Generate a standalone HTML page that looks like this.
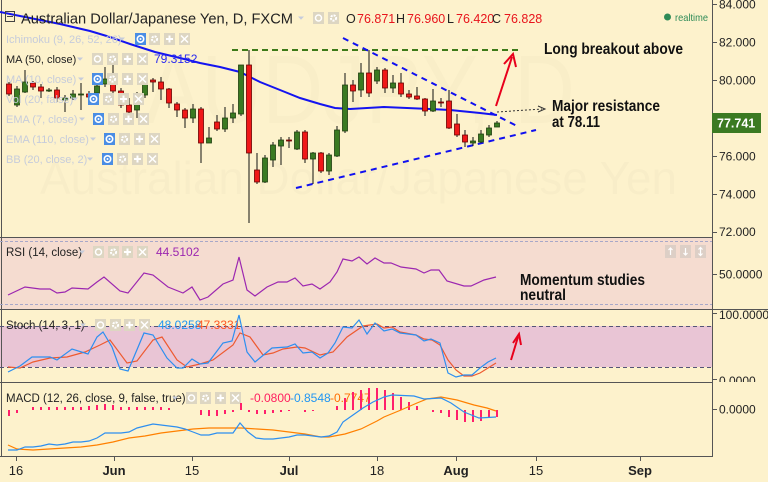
<!DOCTYPE html>
<html><head><meta charset="utf-8"><style>
html,body{margin:0;padding:0;background:#fdf2cc;}
svg{display:block;}
text{font-family:"Liberation Sans",sans-serif;}
.lab{font-size:11px;fill:#c6ccdb;}
.ax{font-size:12px;fill:#222;}
.tm{font-size:13px;fill:#222;text-anchor:middle;}
.tb{font-weight:bold;}
.ann{font-size:16px;font-weight:bold;fill:#111;}
.w line{stroke:#111;stroke-width:1;}
.cg{fill:#3a7a22;stroke:#1f3f10;stroke-width:0.8;}
.cr{fill:#f01818;stroke:#6a0000;stroke-width:0.8;}
.h rect{fill:#ff1f6b;}
</style></head><body>
<svg width="768" height="482" viewBox="0 0 768 482" xmlns="http://www.w3.org/2000/svg">
<defs>
<g id="ge"><rect x="0" y="-6" width="11" height="12" fill="#ddd6c2"/><circle cx="5.5" cy="0" r="3" fill="none" stroke="#fff" stroke-width="1.5"/></g>
<g id="gg"><rect x="0" y="-6" width="11" height="12" fill="#ddd6c2"/><circle cx="5.5" cy="0" r="2.6" fill="none" stroke="#fff" stroke-width="2" stroke-dasharray="2,1"/></g>
<g id="gp"><rect x="0" y="-6" width="11" height="12" fill="#ddd6c2"/><path d="M2,0H9M5.5,-3.5V3.5" stroke="#fff" stroke-width="2"/></g>
<g id="gx"><rect x="0" y="-6" width="11" height="12" fill="#ddd6c2"/><path d="M2,-3.5L9,3.5M9,-3.5L2,3.5" stroke="#fff" stroke-width="1.5"/></g>
<g id="be"><rect x="0" y="-6" width="11" height="12" fill="#4a8de4"/><circle cx="5.5" cy="0" r="3.2" fill="none" stroke="#fff" stroke-width="1.6"/><circle cx="5.5" cy="0" r="1" fill="#fff"/></g>
<path id="dd" d="M0,-1.5L6,-1.5L3,1.8Z" fill="#c6ccdb"/>
<clipPath id="cm"><rect x="0" y="0" width="768" height="236"/></clipPath>
<clipPath id="cs"><rect x="0" y="310" width="768" height="72"/></clipPath>
</defs>

<rect x="0" y="0" width="768" height="482" fill="#fdf2cc"/>
<rect x="0" y="237" width="712" height="72" fill="#f5dcd0"/>
<rect x="0" y="326" width="712" height="41" fill="#e9c5d5"/>

<text x="145" y="123" font-size="97" fill="#000" fill-opacity="0.015" textLength="430" lengthAdjust="spacingAndGlyphs">AUDJPY, D</text>
<text x="40" y="194" font-size="46" fill="#000" fill-opacity="0.02" textLength="637" lengthAdjust="spacingAndGlyphs">Australian Dollar/Japanese Yen</text>

<g stroke="#555" stroke-width="1">
<line x1="712.5" y1="0" x2="712.5" y2="457"/>
<line x1="1.5" y1="0" x2="1.5" y2="456"/>
<line x1="0" y1="237.5" x2="712" y2="237.5"/>
<line x1="0" y1="309.5" x2="768" y2="309.5"/>
<line x1="0" y1="382.5" x2="712" y2="382.5"/>
<line x1="0" y1="456.5" x2="712" y2="456.5"/>
</g>
<g stroke="#a8a8c8" stroke-width="1" stroke-dasharray="3,2">
<line x1="0" y1="241.5" x2="712" y2="241.5"/>
<line x1="0" y1="304.5" x2="712" y2="304.5"/>
</g>
<g stroke="#555577" stroke-width="1" stroke-dasharray="4,3">
<line x1="0" y1="326.5" x2="712" y2="326.5"/>
<line x1="0" y1="367.5" x2="712" y2="367.5"/>
</g>

<g stroke="#555" stroke-width="1">
<path d="M712,4.5h5M712,42.5h5M712,80.5h5M712,118.5h5M712,156.5h5M712,194.5h5M712,232.5h5M712,274.5h5M712,313.5h5M712,379.5h5M712,409.5h5"/>
<path d="M16.5,456v5M114.5,456v5M192.5,456v5M289.5,456v5M377.5,456v5M456.5,456v5M536.5,456v5M640.5,456v5"/>
</g>

<g class="ax">
<text x="719" y="8.5">84.000</text>
<text x="719" y="46.5">82.000</text>
<text x="719" y="84.5">80.000</text>
<text x="719" y="160.5">76.000</text>
<text x="719" y="198.5">74.000</text>
<text x="719" y="236" clip-path="url(#cm)">72.000</text>
<text x="719" y="278.5">50.0000</text>
<text x="719" y="319">100.0000</text>
<text x="719" y="385" clip-path="url(#cs)">0.0000</text>
<text x="719" y="413.5">0.0000</text>
</g>
<rect x="712" y="113" width="49" height="20" fill="#3b7a22"/>
<text x="717" y="127.5" font-size="12.5" fill="#fff" font-weight="bold">77.741</text>

<text class="tm" x="16" y="475">16</text>
<text class="tm tb" x="114" y="475">Jun</text>
<text class="tm" x="192" y="475">15</text>
<text class="tm tb" x="289" y="475">Jul</text>
<text class="tm" x="377" y="475">18</text>
<text class="tm tb" x="456" y="475">Aug</text>
<text class="tm" x="536" y="475">15</text>
<text class="tm tb" x="640" y="475">Sep</text>

<polyline fill="none" stroke="#1414f0" stroke-width="2" points="0,12 30,18 60,24 90,31 110,37 130,44 155,52 180,58 200,63 220,67 240,72 250,77 260,82 270,86 285,92 300,98 320,104 335,108 350,109 384,107 430,109 450,110 480,113 497,115"/>

<line x1="232" y1="50" x2="521" y2="50" stroke="#3d7a18" stroke-width="2" stroke-dasharray="6,4"/>
<line x1="343" y1="38" x2="519" y2="127" stroke="#1010f0" stroke-width="2" stroke-dasharray="6,5"/>
<line x1="296" y1="188" x2="536" y2="130" stroke="#1010f0" stroke-width="2" stroke-dasharray="6,5"/>

<g class="w">
<line x1="9" y1="82" x2="9" y2="96"/><line x1="17" y1="86" x2="17" y2="107"/><line x1="25" y1="70" x2="25" y2="93"/><line x1="33" y1="81" x2="33" y2="90"/><line x1="41" y1="84" x2="41" y2="98"/><line x1="49" y1="88" x2="49" y2="92"/><line x1="57" y1="87" x2="57" y2="102"/><line x1="65" y1="95" x2="65" y2="112"/><line x1="73" y1="90" x2="73" y2="100"/><line x1="81" y1="83" x2="81" y2="110"/><line x1="89" y1="91" x2="89" y2="99"/><line x1="97" y1="80" x2="97" y2="95"/><line x1="105" y1="67" x2="105" y2="87"/><line x1="113" y1="65" x2="113" y2="98"/><line x1="121" y1="88" x2="121" y2="108"/><line x1="129" y1="98" x2="129" y2="117"/><line x1="137" y1="92" x2="137" y2="118"/><line x1="145" y1="75" x2="145" y2="98"/><line x1="153" y1="78" x2="153" y2="92"/><line x1="161" y1="77" x2="161" y2="100"/><line x1="169" y1="88" x2="169" y2="108"/><line x1="177" y1="102" x2="177" y2="117"/><line x1="185" y1="108" x2="185" y2="128"/><line x1="193" y1="104" x2="193" y2="123"/><line x1="201" y1="107" x2="201" y2="163"/><line x1="209" y1="127" x2="209" y2="143"/><line x1="217" y1="115" x2="217" y2="131"/><line x1="225" y1="107" x2="225" y2="132"/><line x1="233" y1="104" x2="233" y2="123"/><line x1="241" y1="65" x2="241" y2="116"/><line x1="249" y1="50" x2="249" y2="223"/><line x1="257" y1="153" x2="257" y2="184"/><line x1="265" y1="155" x2="265" y2="183"/><line x1="273" y1="142" x2="273" y2="167"/><line x1="281" y1="137" x2="281" y2="165"/><line x1="289" y1="137" x2="289" y2="148"/><line x1="297" y1="130" x2="297" y2="150"/><line x1="305" y1="130" x2="305" y2="163"/><line x1="313" y1="152" x2="313" y2="184"/><line x1="321" y1="152" x2="321" y2="173"/><line x1="329" y1="153" x2="329" y2="175"/><line x1="337" y1="126" x2="337" y2="157"/><line x1="345" y1="73" x2="345" y2="133"/><line x1="353" y1="80" x2="353" y2="102"/><line x1="361" y1="63" x2="361" y2="97"/><line x1="369" y1="50" x2="369" y2="97"/><line x1="377" y1="67" x2="377" y2="84"/><line x1="385" y1="68" x2="385" y2="93"/><line x1="393" y1="75" x2="393" y2="93"/><line x1="401" y1="73" x2="401" y2="97"/><line x1="409" y1="90" x2="409" y2="99"/><line x1="417" y1="87" x2="417" y2="100"/><line x1="425" y1="98" x2="425" y2="116"/><line x1="433" y1="89" x2="433" y2="112"/><line x1="441" y1="98" x2="441" y2="107"/><line x1="449" y1="90" x2="449" y2="129"/><line x1="457" y1="114" x2="457" y2="137"/><line x1="465" y1="130" x2="465" y2="147"/><line x1="473" y1="137" x2="473" y2="146"/><line x1="481" y1="130" x2="481" y2="143"/><line x1="489" y1="125" x2="489" y2="137"/><line x1="497" y1="121" x2="497" y2="127"/>
</g>
<g>
<rect class="cr" x="6.5" y="84" width="5" height="10"/>
<rect class="cg" x="14.5" y="89" width="5" height="16"/>
<rect class="cg" x="22.5" y="82" width="5" height="10"/>
<rect class="cr" x="30.5" y="83" width="5" height="4"/>
<rect class="cr" x="38.5" y="87" width="5" height="4"/>
<rect class="cg" x="46.5" y="90" width="5" height="1"/>
<rect class="cr" x="54.5" y="90" width="5" height="8"/>
<rect class="cg" x="62.5" y="98" width="5" height="2"/>
<rect class="cg" x="70.5" y="94" width="5" height="4"/>
<rect class="cg" x="78.5" y="94" width="5" height="1"/>
<rect class="cr" x="86.5" y="94" width="5" height="3"/>
<rect class="cg" x="94.5" y="86" width="5" height="7"/>
<rect class="cg" x="102.5" y="79" width="5" height="5"/>
<rect class="cr" x="110.5" y="79" width="5" height="12"/>
<rect class="cr" x="118.5" y="91" width="5" height="14"/>
<rect class="cr" x="126.5" y="105" width="5" height="7"/>
<rect class="cg" x="134.5" y="95" width="5" height="15"/>
<rect class="cg" x="142.5" y="80" width="5" height="15"/>
<rect class="cr" x="150.5" y="80" width="5" height="2"/>
<rect class="cr" x="158.5" y="82" width="5" height="7"/>
<rect class="cr" x="166.5" y="89" width="5" height="14"/>
<rect class="cr" x="174.5" y="104" width="5" height="6"/>
<rect class="cr" x="182.5" y="110" width="5" height="8"/>
<rect class="cg" x="190.5" y="109" width="5" height="9"/>
<rect class="cr" x="198.5" y="109" width="5" height="34"/>
<rect class="cg" x="206.5" y="138" width="5" height="5"/>
<rect class="cr" x="214.5" y="122" width="5" height="7"/>
<rect class="cg" x="222.5" y="118" width="5" height="11"/>
<rect class="cg" x="230.5" y="113" width="5" height="5"/>
<rect class="cg" x="238.5" y="65" width="5" height="49"/>
<rect class="cr" x="246.5" y="65" width="5" height="88"/>
<rect class="cr" x="254.5" y="170" width="5" height="12"/>
<rect class="cg" x="262.5" y="158" width="5" height="24"/>
<rect class="cg" x="270.5" y="145" width="5" height="15"/>
<rect class="cg" x="278.5" y="140" width="5" height="6"/>
<rect class="cr" x="286.5" y="140" width="5" height="1"/>
<rect class="cg" x="294.5" y="132" width="5" height="17"/>
<rect class="cr" x="302.5" y="132" width="5" height="27"/>
<rect class="cg" x="310.5" y="153" width="5" height="6"/>
<rect class="cr" x="318.5" y="153" width="5" height="18"/>
<rect class="cg" x="326.5" y="155" width="5" height="16"/>
<rect class="cg" x="334.5" y="130" width="5" height="26"/>
<rect class="cg" x="342.5" y="85" width="5" height="46"/>
<rect class="cr" x="350.5" y="85" width="5" height="6"/>
<rect class="cg" x="358.5" y="73" width="5" height="17"/>
<rect class="cr" x="366.5" y="73" width="5" height="20"/>
<rect class="cg" x="374.5" y="70" width="5" height="11"/>
<rect class="cr" x="382.5" y="70" width="5" height="18"/>
<rect class="cg" x="390.5" y="83" width="5" height="5"/>
<rect class="cr" x="398.5" y="83" width="5" height="11"/>
<rect class="cr" x="406.5" y="94" width="5" height="3"/>
<rect class="cr" x="414.5" y="96" width="5" height="3"/>
<rect class="cr" x="422.5" y="99" width="5" height="12"/>
<rect class="cg" x="430.5" y="101" width="5" height="10"/>
<rect class="cr" x="438.5" y="102" width="5" height="1"/>
<rect class="cr" x="446.5" y="101" width="5" height="27"/>
<rect class="cr" x="454.5" y="124" width="5" height="11"/>
<rect class="cr" x="462.5" y="135" width="5" height="7"/>
<rect class="cg" x="470.5" y="141" width="5" height="2"/>
<rect class="cg" x="478.5" y="134" width="5" height="8"/>
<rect class="cg" x="486.5" y="128" width="5" height="7"/>
<rect class="cg" x="494.5" y="123" width="5" height="4"/>
</g>

<g stroke="#333" stroke-width="1" stroke-dasharray="2,2" fill="none">
<line x1="497" y1="112" x2="542" y2="109"/>
</g>
<path d="M538,106L545,109L538,112" fill="none" stroke="#333" stroke-width="1"/>
<line x1="496" y1="106" x2="512" y2="57" stroke="#e8001c" stroke-width="2"/>
<path d="M504,64L513,54L516,67" fill="none" stroke="#e8001c" stroke-width="2"/>
<line x1="511" y1="360" x2="518" y2="337" stroke="#e8001c" stroke-width="2"/>
<path d="M513,343L519,334L521,345" fill="none" stroke="#e8001c" stroke-width="2"/>

<text class="ann" x="544" y="54" textLength="139" lengthAdjust="spacingAndGlyphs">Long breakout above</text>
<text class="ann" x="552" y="111" textLength="108" lengthAdjust="spacingAndGlyphs">Major resistance</text>
<text class="ann" x="552" y="127" textLength="48" lengthAdjust="spacingAndGlyphs">at 78.11</text>
<text class="ann" x="520" y="285" textLength="125" lengthAdjust="spacingAndGlyphs">Momentum studies</text>
<text class="ann" x="520" y="300" textLength="46" lengthAdjust="spacingAndGlyphs">neutral</text>

<rect x="5.5" y="11.5" width="9" height="10" fill="none" stroke="#444" stroke-width="1"/>
<line x1="7" y1="16.5" x2="13" y2="16.5" stroke="#444"/>
<text x="21" y="23.5" font-size="15" fill="#222" textLength="272" lengthAdjust="spacingAndGlyphs">Australian Dollar/Japanese Yen, D, FXCM</text>
<use href="#dd" x="298" y="18"/>
<use href="#ge" x="313" y="18"/>
<use href="#gg" x="328" y="18"/>
<g font-size="12.5">
<text x="346" y="23" fill="#222">O</text><text x="357" y="23" fill="#e8141c">76.871</text>
<text x="396" y="23" fill="#222">H</text><text x="407" y="23" fill="#e8141c">76.960</text>
<text x="447" y="23" fill="#222">L</text><text x="456" y="23" fill="#e8141c">76.420</text>
<text x="492" y="23" fill="#222">C</text><text x="504" y="23" fill="#e8141c">76.828</text>
</g>
<circle cx="667.5" cy="17" r="3.5" fill="#2e8b57"/>
<text x="675" y="21" font-size="10.5" fill="#2e8b57" textLength="33" lengthAdjust="spacingAndGlyphs">realtime</text>

<text class="lab" x="6" y="43">Ichimoku (9, 26, 52, 26)</text>
<use href="#dd" x="119" y="39"/><use href="#be" x="135" y="39"/><use href="#gg" x="149" y="39"/><use href="#gp" x="164" y="39"/><use href="#gx" x="179" y="39"/>
<text class="lab" x="6" y="63" style="fill:#222">MA (50, close)</text>
<use href="#dd" x="77" y="59"/><use href="#ge" x="92" y="59"/><use href="#gg" x="107" y="59"/><use href="#gp" x="122" y="59"/><use href="#gx" x="137" y="59"/>
<text x="154" y="63" font-size="12" fill="#2a2af0">79.3152</text>
<text class="lab" x="6" y="83">MA (10, close)</text>
<use href="#dd" x="78" y="79"/><use href="#be" x="92" y="79"/><use href="#gg" x="107" y="79"/><use href="#gp" x="122" y="79"/><use href="#gx" x="137" y="79"/>
<text class="lab" x="6" y="103">Vol (20, false)</text>
<use href="#dd" x="72" y="99"/><use href="#be" x="88" y="99"/><use href="#gg" x="103" y="99"/><use href="#gp" x="118" y="99"/><use href="#gx" x="133" y="99"/>
<text class="lab" x="6" y="123">EMA (7, close)</text>
<use href="#dd" x="79" y="119"/><use href="#be" x="93" y="119"/><use href="#gg" x="108" y="119"/><use href="#gp" x="123" y="119"/><use href="#gx" x="138" y="119"/>
<text class="lab" x="6" y="143">EMA (110, close)</text>
<use href="#dd" x="90" y="139"/><use href="#be" x="104" y="139"/><use href="#gg" x="119" y="139"/><use href="#gp" x="134" y="139"/><use href="#gx" x="149" y="139"/>
<text class="lab" x="6" y="163">BB (20, close, 2)</text>
<use href="#dd" x="87" y="159"/><use href="#be" x="102" y="159"/><use href="#gg" x="117" y="159"/><use href="#gp" x="132" y="159"/><use href="#gx" x="147" y="159"/>

<text x="6" y="256" font-size="11.5" fill="#222">RSI (14, close)</text>
<use href="#dd" x="79" y="252"/><use href="#ge" x="93" y="252"/><use href="#gg" x="108" y="252"/><use href="#gp" x="122" y="252"/><use href="#gx" x="137" y="252"/>
<text x="156" y="256" font-size="12" fill="#9c27b0">44.5102</text>
<g fill="#ddcfc6"><rect x="665" y="245" width="11" height="13"/><rect x="680" y="245" width="11" height="13"/><rect x="695" y="245" width="11" height="13"/></g>
<g stroke="#fff" stroke-width="1.2" fill="none"><path d="M670.5,255V248M668.5,250L670.5,248L672.5,250"/><path d="M685.5,248V255M683.5,253L685.5,255L687.5,253"/><path d="M700.5,247.5V255.5M698.5,249.5L700.5,247.5L702.5,249.5M698.5,253.5L700.5,255.5L702.5,253.5"/></g>
<polyline fill="none" stroke="#9c27b0" stroke-width="1.2" points="8,295 25,287 40,289 50,289 57,293 65,292 72,288 88,289 97,282 104,277 120,291 128,293 144,273 153,275 168,287 183,293 192,287 200,300 208,297 223,284 233,280 239,257 247,290 255,296 267,287 278,282 287,282 295,278 303,286 312,284 320,289 330,282 337,272 343,259 352,261 359,257 367,264 375,258 384,263 391,263 401,267 416,269 424,273 431,270 439,270 447,281 464,286 471,286 484,280 496,277"/>

<text x="6" y="329" font-size="11.5" fill="#222">Stoch (14, 3, 1)</text>
<use href="#dd" x="80" y="325"/><use href="#ge" x="95" y="325"/><use href="#gg" x="110" y="325"/><use href="#gp" x="124" y="325"/><use href="#gx" x="139" y="325"/>
<text x="158" y="329" font-size="12" fill="#2196f3">48.0258</text>
<text x="197" y="329" font-size="12" fill="#ff5722">47.3331</text>
<polyline fill="none" stroke="#ee5a30" stroke-width="1.2" points="8,367 20,368 33,362 50,358 67,357 85,352 100,345 110,340 127,363 137,361 153,340 162,337 177,360 187,367 200,364 213,360 233,345 240,333 250,337 263,355 273,353 283,349 297,347 305,348 320,355 333,352 347,337 363,326 377,324 384,328 392,327 400,332 416,335 424,339 432,340 440,345 448,360 456,370 464,376 472,376 480,373 488,368 496,363"/>
<polyline fill="none" stroke="#2d8ff0" stroke-width="1.2" points="8,372 20,366 32,357 50,357 57,360 72,349 88,354 97,337 103,332 112,347 120,369 128,371 144,333 153,335 167,358 177,368 183,368 192,359 200,364 208,363 223,343 232,341 239,315 247,352 255,362 272,348 287,347 295,344 303,353 312,352 320,358 328,353 335,343 343,327 352,328 359,320 367,334 375,323 384,331 392,329 400,333 416,335 424,341 431,339 440,343 448,373 456,377 464,375 472,375 480,368 488,362 496,358"/>

<text x="6" y="402" font-size="11.5" fill="#222">MACD (12, 26, close, 9, false, true)</text>
<use href="#dd" x="172" y="398"/><use href="#ge" x="186" y="398"/><use href="#gg" x="200" y="398"/><use href="#gp" x="215" y="398"/><use href="#gx" x="230" y="398"/>
<text x="250" y="402" font-size="12" fill="#ff1f5e">-0.0800</text>
<text x="290" y="402" font-size="12" fill="#2196f3">-0.8548</text>
<text x="330" y="402" font-size="12" fill="#ff6d00">-0.7747</text>
<g class="h">
<rect x="8" y="410" width="2" height="6"/><rect x="16" y="410" width="2" height="3"/>
<rect x="32" y="407" width="2" height="3"/><rect x="40" y="407" width="2" height="3"/><rect x="48" y="407" width="2" height="3"/><rect x="56" y="407" width="2" height="3"/><rect x="64" y="407" width="2" height="3"/><rect x="72" y="407" width="2" height="3"/><rect x="80" y="407" width="2" height="3"/><rect x="88" y="406" width="2" height="4"/><rect x="96" y="405" width="2" height="5"/><rect x="104" y="404" width="2" height="6"/><rect x="112" y="405" width="2" height="5"/><rect x="120" y="407" width="2" height="3"/><rect x="128" y="407" width="2" height="3"/><rect x="136" y="407" width="2" height="3"/><rect x="144" y="407" width="2" height="3"/><rect x="152" y="407" width="2" height="3"/><rect x="160" y="407" width="2" height="3"/><rect x="168" y="408" width="2" height="2"/>
<rect x="200" y="410" width="2" height="5"/><rect x="208" y="410" width="2" height="6"/><rect x="216" y="410" width="2" height="6"/><rect x="224" y="410" width="2" height="4"/><rect x="232" y="410" width="2" height="2"/>
<rect x="240" y="403" width="2" height="7"/>
<rect x="248" y="410" width="2" height="2"/><rect x="256" y="410" width="2" height="4"/><rect x="264" y="410" width="2" height="4"/><rect x="272" y="410" width="2" height="3"/><rect x="280" y="410" width="2" height="2"/><rect x="288" y="410" width="2" height="1"/><rect x="304" y="410" width="2" height="2"/><rect x="312" y="410" width="2" height="1"/>
<rect x="336" y="406" width="2" height="4"/><rect x="344" y="398" width="2" height="12"/><rect x="352" y="392" width="2" height="18"/><rect x="360" y="390" width="2" height="20"/><rect x="368" y="388" width="2" height="22"/><rect x="376" y="388" width="2" height="22"/><rect x="384" y="390" width="2" height="20"/><rect x="392" y="393" width="2" height="17"/><rect x="400" y="397" width="2" height="13"/><rect x="408" y="402" width="2" height="8"/><rect x="416" y="406" width="2" height="4"/>
<rect x="432" y="410" width="2" height="2"/><rect x="440" y="410" width="2" height="3"/><rect x="448" y="410" width="2" height="7"/><rect x="456" y="410" width="2" height="10"/><rect x="464" y="410" width="2" height="12"/><rect x="472" y="410" width="2" height="12"/><rect x="480" y="410" width="2" height="11"/><rect x="488" y="410" width="2" height="8"/><rect x="496" y="410" width="2" height="7"/>
</g>
<polyline fill="none" stroke="#ff8000" stroke-width="1.2" points="8,445 17,449 33,450 49,449 65,448 81,447 97,445 113,442 129,438 145,436 161,433 177,431 193,429 209,428 225,428 241,428 257,429 273,430 289,432 305,434 321,437 329,437 345,434 361,429 377,421 384,417 401,410 417,403 427,399 441,397 457,400 474,405 487,408 496,411"/>
<polyline fill="none" stroke="#2d8ff0" stroke-width="1.2" points="8,450 17,450 25,447 33,447 41,446 49,444 57,445 65,444 73,442 81,442 89,441 97,438 105,433 113,433 121,433 129,432 137,428 145,426 153,424 161,425 169,426 177,427 185,429 193,432 201,435 209,435 217,433 225,433 233,433 240,423 248,432 256,438 264,439 273,439 281,438 289,437 297,435 305,435 313,436 321,437 329,436 337,432 343,422 353,415 363,408 373,402 384,397 392,395 414,396 424,399 441,398 451,403 464,412 479,418 496,417"/>
</svg>
</body></html>
